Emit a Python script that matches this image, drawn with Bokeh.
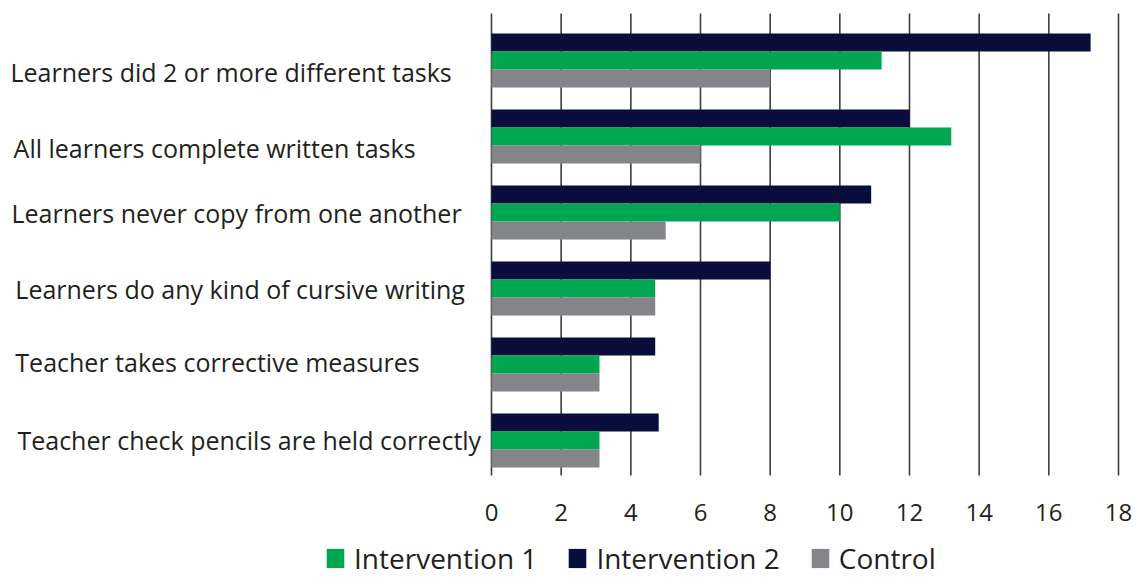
from bokeh.plotting import figure
from bokeh.models import ColumnDataSource, Legend, LegendItem, Range1d
from bokeh.transform import dodge
from bokeh.core.properties import value
from bokeh.embed import file_html
from bokeh.resources import INLINE

categories = [
    "Learners did 2 or more different tasks",
    "All learners complete written tasks",
    "Learners never copy from one another",
    "Learners do any kind of cursive writing",
    "Teacher takes corrective measures",
    "Teacher check pencils are held correctly",
]
intervention1 = [11.2, 13.2, 10.0, 4.7, 3.1, 3.1]
intervention2 = [17.2, 12.0, 10.9, 8.0, 4.7, 4.8]
control = [8.0, 6.0, 5.0, 4.7, 3.1, 3.1]
x_ticks = [0, 2, 4, 6, 8, 10, 12, 14, 16, 18]
tick_labels = ["0", "2", "4", "6", "8", "10", "12", "14", "16", "18"]

FONT = "Open Sans"
TEXT = "#231f20"
C_I1 = "#00a651"
C_I2 = "#090d3b"
C_CT = "#848589"

# layout settings (not data)
label_x = [-13.81, -13.72, -13.78, -13.67, -13.67, -13.61]   # left edge of each category label
label_dy = [11, 11, 0, 0, -3, -1]                             # pixel nudges of the labels
grid_top, grid_bottom = 6.118, 0.04                           # vertical extent of the grid lines
tick_label_y = -0.447                                         # row of the x tick labels

n = len(categories)
ypos = [n - i - 0.5 for i in range(n)]
src = ColumnDataSource(dict(y=ypos, i1=intervention1, i2=intervention2, ct=control))
lsrc = ColumnDataSource(dict(x=label_x, y=ypos, dy=label_dy, text=categories))
gsrc = ColumnDataSource(dict(x=x_ticks, y0=[grid_bottom] * len(x_ticks),
                             y1=[grid_top] * len(x_ticks), ty=[tick_label_y] * len(x_ticks),
                             text=tick_labels))

p = figure(width=1136, height=577, output_backend="svg", toolbar_location=None,
           x_axis_location=None, y_axis_location=None,
           x_range=Range1d(-14.096, 18.517), y_range=Range1d(-1.3026, 6.2895),
           min_border=0)
p.outline_line_color = None
p.background_fill_color = "white"
p.border_fill_color = "white"
p.grid.visible = False

# vertical grid lines at the x ticks
p.segment(x0="x", y0="y0", x1="x", y1="y1", source=gsrc, line_color="#3d3d3d", line_width=1.6)

bh = 0.237
r2 = p.hbar(y=dodge("y", bh, range=p.y_range), right="i2", left=0, height=bh, source=src,
            fill_color=C_I2, line_color=None)
r1 = p.hbar(y=dodge("y", 0, range=p.y_range), right="i1", left=0, height=bh, source=src,
            fill_color=C_I1, line_color=None)
rc = p.hbar(y=dodge("y", -bh, range=p.y_range), right="ct", left=0, height=bh, source=src,
            fill_color=C_CT, line_color=None)

# x tick labels
p.text(x="x", y="ty", text="text", source=gsrc, text_font=value(FONT),
       text_font_size="24px", text_color=TEXT, text_align="center", text_baseline="middle")

# category labels
p.text(x="x", y="y", text="text", y_offset="dy", source=lsrc,
       text_font=value(FONT), text_font_size="25px", text_color=TEXT,
       text_baseline="middle", text_align="left")

legend = Legend(items=[LegendItem(label="Intervention 1", renderers=[r1]),
                       LegendItem(label="Intervention 2", renderers=[r2]),
                       LegendItem(label="Control", renderers=[rc])],
                orientation="horizontal", location=(324, 0),
                border_line_color=None, background_fill_alpha=0,
                glyph_width=22, glyph_height=24, label_standoff=8, spacing=29,
                padding=0, margin=0,
                label_text_font=FONT, label_text_font_size="28px", label_text_color=TEXT)
p.add_layout(legend, "center")

open("out.html", "w").write(file_html(p, INLINE))
